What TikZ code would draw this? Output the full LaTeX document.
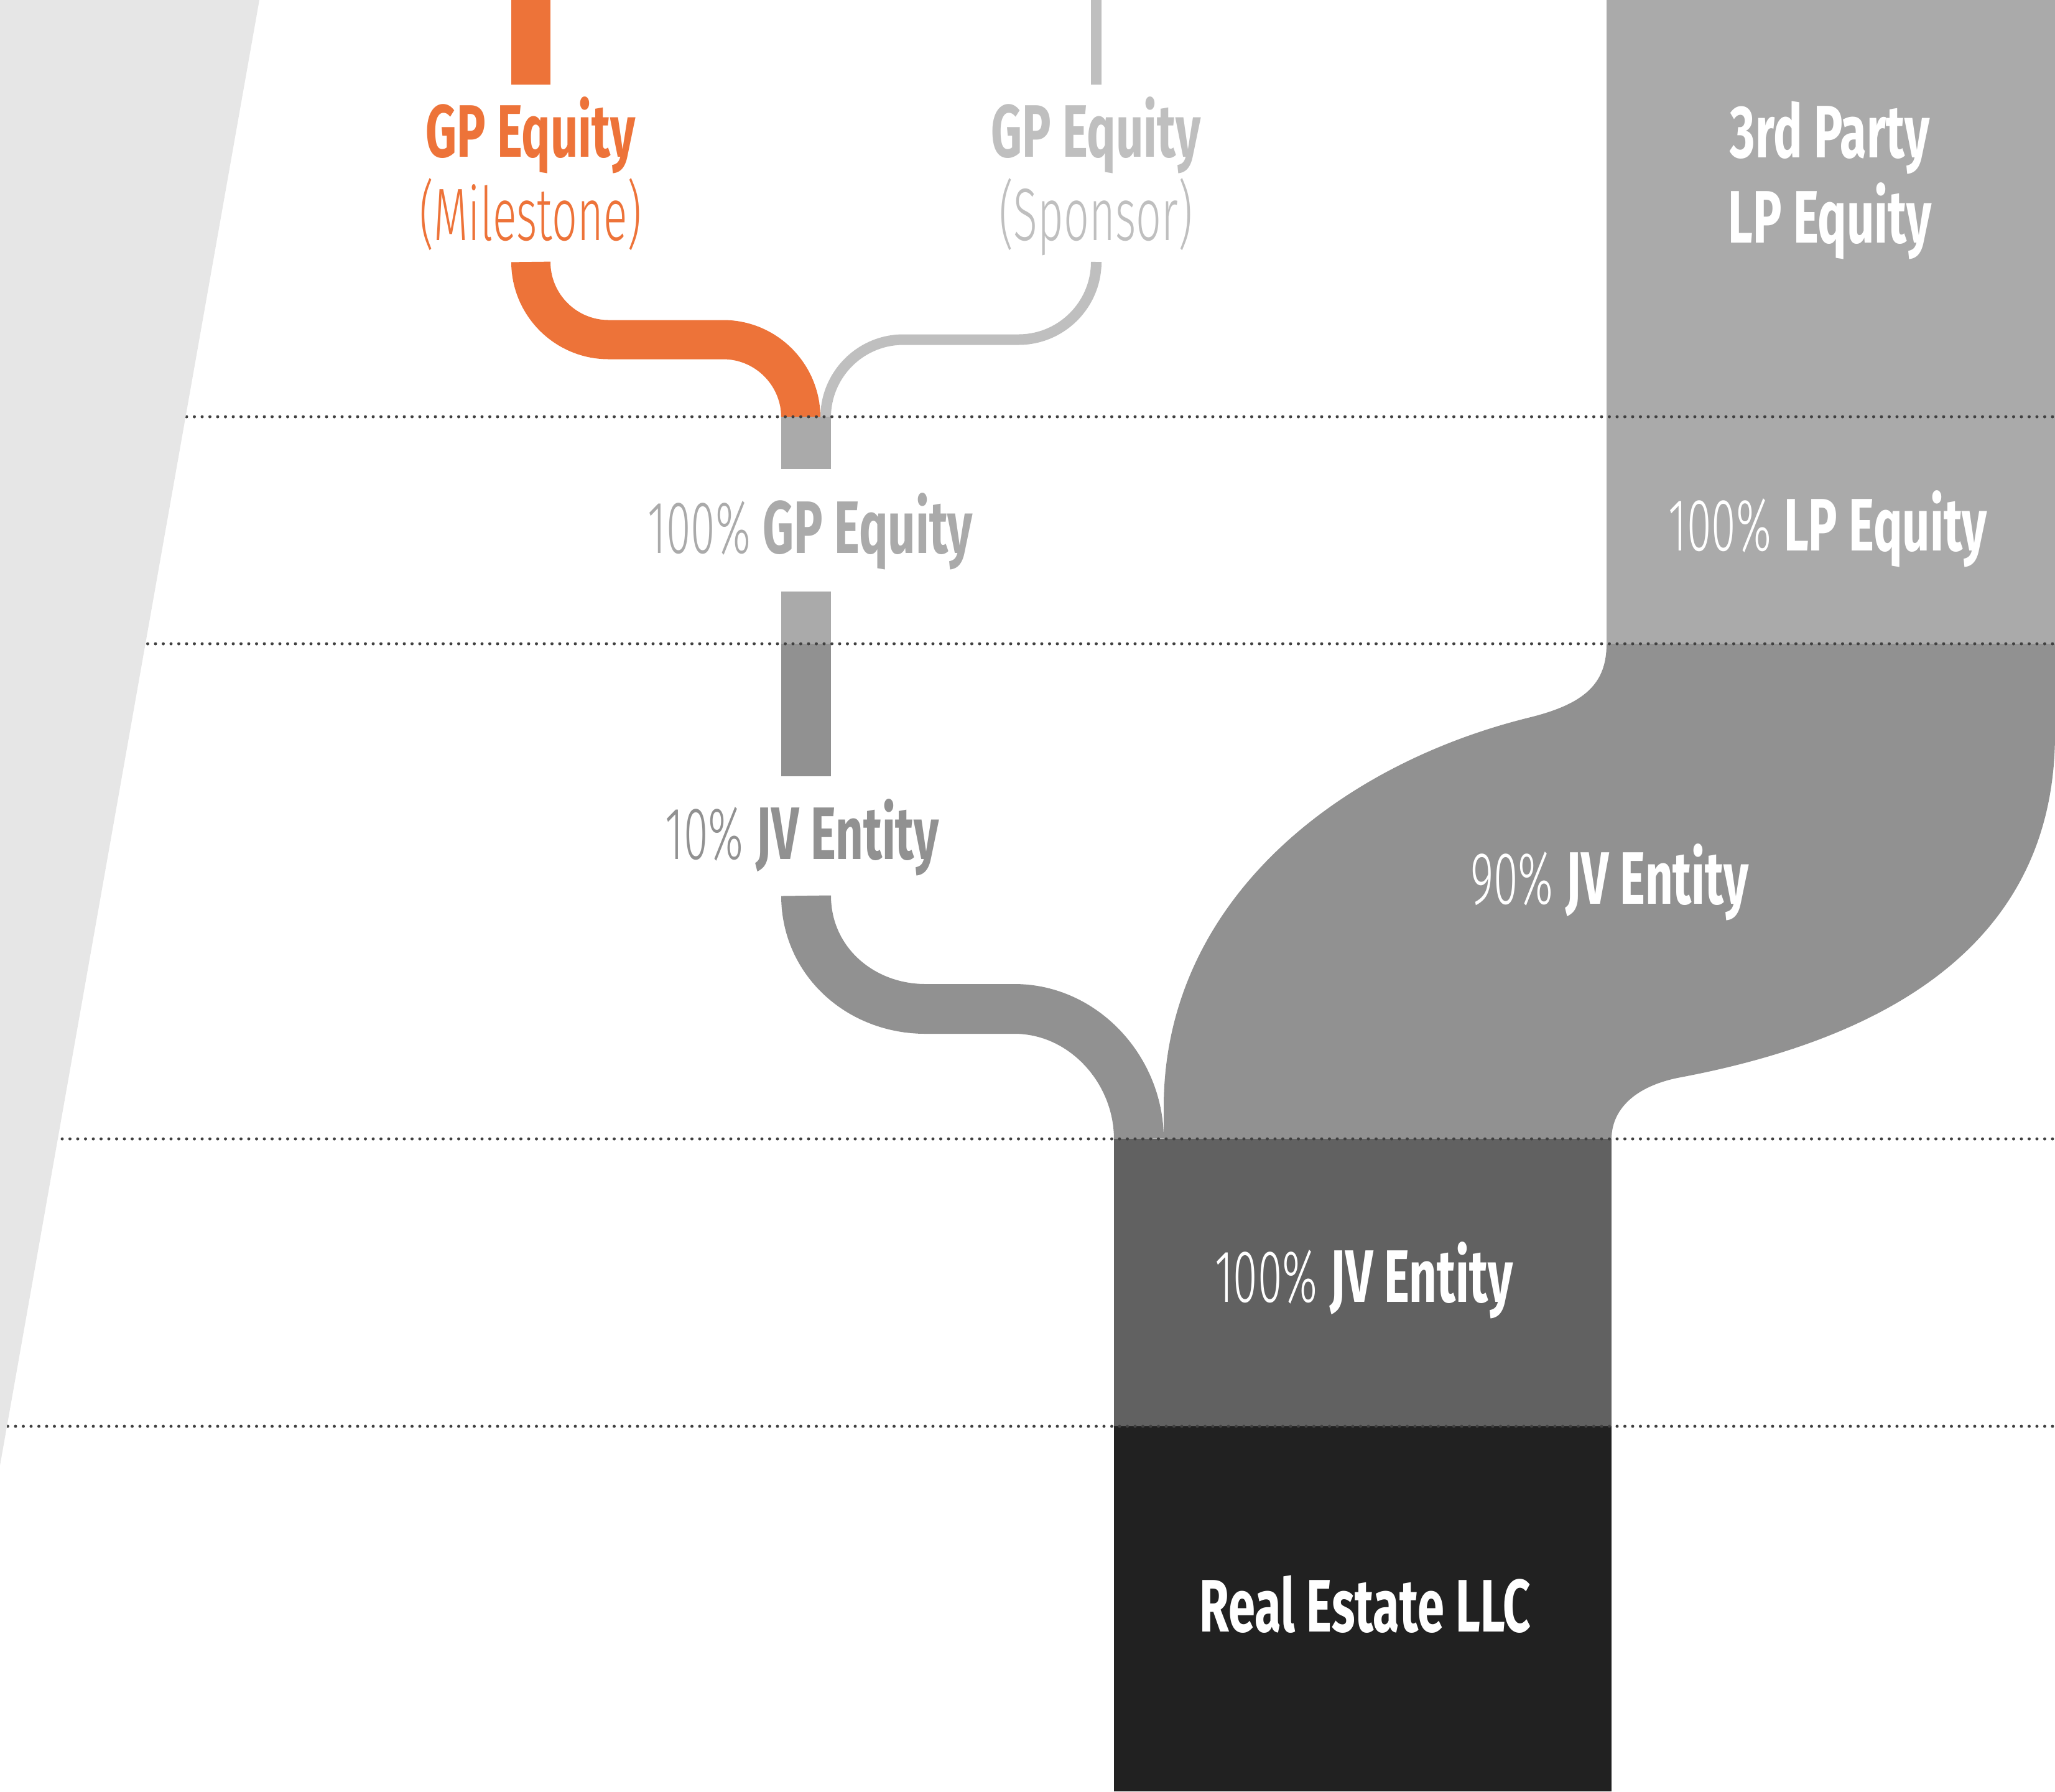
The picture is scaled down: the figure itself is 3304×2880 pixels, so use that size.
\documentclass[tikz,border=0pt]{standalone}
\usepackage{fontspec}
\setmainfont{Fira Sans}[UprightFont={* Light}, BoldFont={* Bold},
  UprightFeatures={FakeStretch=0.6}, BoldFeatures={FakeStretch=0.65}]
\usepackage{tikz}
\definecolor{milestone}{RGB}{237,115,57}
\definecolor{sponsor}{RGB}{191,191,191}
\definecolor{gpgrey}{RGB}{170,170,170}
\definecolor{jvgrey}{RGB}{145,145,145}
\definecolor{jvdark}{RGB}{97,97,97}
\definecolor{llcdark}{RGB}{33,33,33}
\definecolor{wedgegrey}{RGB}{230,230,230}
\definecolor{dotgrey}{RGB}{64,64,64}
\newcommand{\dotrow}[1]{
\draw [dotgrey, line width=0.5mm, line cap=round, dash pattern=on 0pt off 1.25mm] (0,#1) -- (3304,#1)
}
\tikzset{lbl/.style={anchor=base, inner sep=0pt, font=\fontsize{34}{40}\selectfont}}

\begin{document}
\begin{tikzpicture}[x=0.1mm, y=-0.1mm]
\useasboundingbox (0,0) rectangle (3304,2880);
% LP side
\fill [gpgrey] (2583,0) rectangle (3304,1035);
\fill [jvgrey] (2583,1035) -- (3304,1035) -- (3304,1180)
  .. controls (3304,1520) and (3030,1670) .. (2702,1732)
  .. controls (2627,1746) and (2591,1785) .. (2591,1831) -- (1871,1831) -- (1871,1780)
  .. controls (1871,1450) and (2150,1230) .. (2457,1154)
  .. controls (2547,1132) and (2583,1100) .. (2583,1035) -- cycle;
% GP side
\draw [milestone, line width=6.3mm] (853.5,0) -- (853.5,136);
\draw [milestone, line width=6.3mm] (853.5,421) .. controls (853.5,490) and (909.5,546) .. (978.5,546)
  -- (1162.5,546) .. controls (1231.5,546) and (1287.5,602) .. (1287.5,671);
\draw [sponsor, line width=1.7mm] (1762.5,0) -- (1762.5,136);
\draw [sponsor, line width=1.7mm] (1762.5,421) .. controls (1762.5,490) and (1706.5,546) .. (1637.5,546)
  -- (1452.5,546) .. controls (1383.5,546) and (1327.5,602) .. (1327.5,671);
\fill [gpgrey] (1256,670) rectangle (1336,754);
\fill [gpgrey] (1256,951) rectangle (1336,1035);
\fill [jvgrey] (1256,1035) rectangle (1336,1248);
\draw [jvgrey, line width=8mm] (1296,1440) .. controls (1296,1545) and (1383,1622) .. (1488,1622)
  -- (1631,1622) .. controls (1742,1622) and (1831,1720) .. (1831,1831);
% JV and LLC
\fill [jvdark] (1791,1831) rectangle (2591,2293);
\fill [llcdark] (1791,2293) rectangle (2591,2880);
% level lines
\dotrow{670}; \dotrow{1035}; \dotrow{1831}; \dotrow{2293};
\fill [wedgegrey] (0,0) -- (417,0) -- (0,2356) -- cycle;

\node [lbl, milestone] (gpm) at (853,252) {\bfseries GP Equity};
\node [lbl, milestone] (gpmsub) at (853,386) {(Milestone)};
\node [lbl, sponsor] (gps) at (1762,252) {\bfseries GP Equity};
\node [lbl, sponsor] (gpssub) at (1762,386) {(Sponsor)};
\node [lbl, white] (lp) at (2942,253) {\bfseries 3rd Party};
\node [lbl, white] (lpsub) at (2942,390) {\bfseries LP Equity};
\node [lbl, gpgrey] (gptot) at (1303,889) {100\% \textbf{GP Equity}};
\node [lbl, white] (lptot) at (2939,885) {100\% \textbf{LP Equity}};
\node [lbl, jvgrey] (jvgp) at (1290,1381) {10\% \textbf{JV Entity}};
\node [lbl, white] (jvlp) at (2588,1453) {90\% \textbf{JV Entity}};
\node [lbl, white] (jvtot) at (2193,2093) {100\% \textbf{JV Entity}};
\node [lbl, white] (llc) at (2195,2623) {\bfseries Real Estate LLC};
\end{tikzpicture}
\end{document}
